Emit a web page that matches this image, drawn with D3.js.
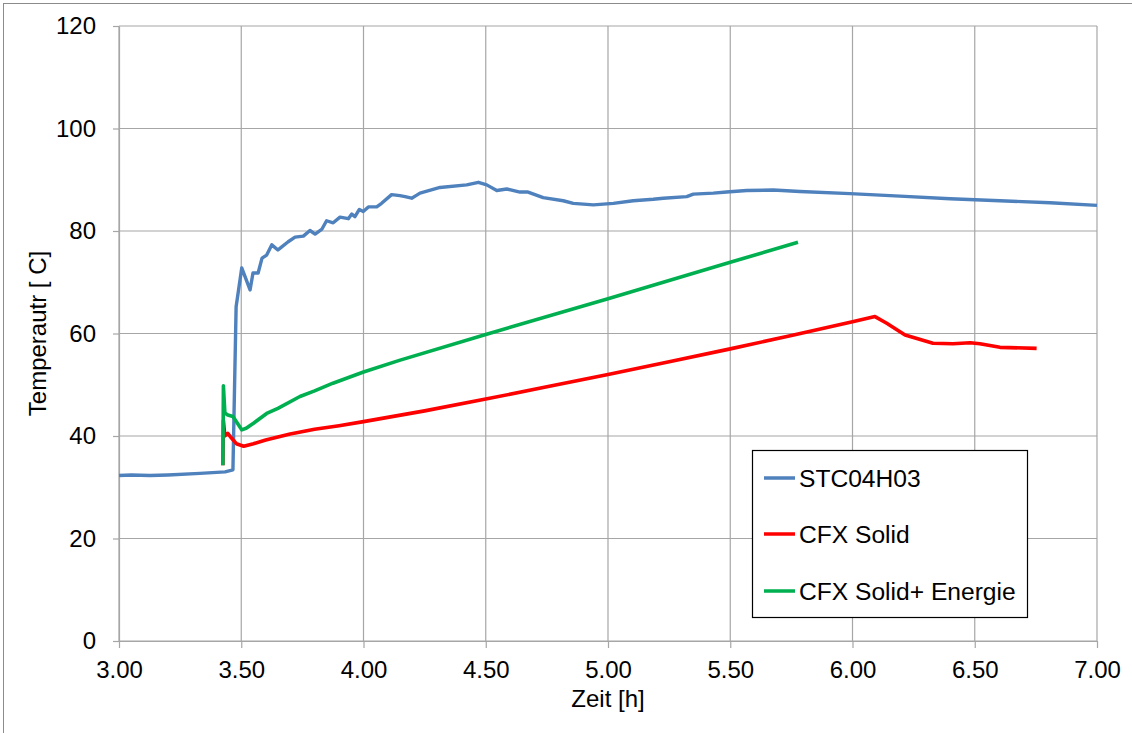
<!DOCTYPE html>
<html>
<head>
<meta charset="utf-8">
<script src="https://cdn.jsdelivr.net/npm/d3@7"></script>
<style>
html, body { margin: 0; padding: 0; background: #fff; }
svg { display: block; font-family: "Liberation Sans", Arial, sans-serif; }
</style>
</head>
<body>
<svg id="chart"></svg>
<script>
(function() {
'use strict';

// STC04H03 (measurement)
var stcTime = [3.000, 3.050, 3.127, 3.200, 3.331, 3.434, 3.466, 3.479, 3.502, 3.536, 3.548, 3.569,
    3.585, 3.604, 3.625, 3.650, 3.658, 3.692, 3.720, 3.754, 3.781, 3.802, 3.829, 3.849, 3.876,
    3.904, 3.938, 3.952, 3.965, 3.983, 3.999, 4.020, 4.054, 4.074, 4.115, 4.149, 4.170, 4.197,
    4.218, 4.231, 4.313, 4.422, 4.470, 4.504, 4.545, 4.586, 4.640, 4.673, 4.735, 4.817, 4.858,
    4.940, 5.022, 5.103, 5.185, 5.226, 5.322, 5.349, 5.431, 5.485, 5.567, 5.676, 5.785, 5.990,
    6.194, 6.399, 6.603, 6.808, 7.000];
var stcTemp = [32.3, 32.4, 32.3, 32.4, 32.7, 33.0, 33.4, 65.2, 72.8, 68.5, 71.8, 71.8,
    74.7, 75.3, 77.3, 76.3, 76.6, 77.9, 78.8, 79.0, 80.1, 79.4, 80.3, 82.0, 81.6,
    82.7, 82.4, 83.3, 82.8, 84.2, 83.8, 84.7, 84.7, 85.4, 87.1, 86.9, 86.7, 86.4,
    87.0, 87.4, 88.5, 89.0, 89.5, 89.0, 87.9, 88.2, 87.6, 87.6, 86.5, 85.9, 85.4,
    85.1, 85.4, 85.9, 86.2, 86.4, 86.7, 87.2, 87.4, 87.6, 87.9, 88.0, 87.7, 87.3,
    86.8, 86.3, 85.9, 85.5, 85.0];

// CFX Solid
var solidTime = [3.425, 3.427, 3.433, 3.445, 3.460, 3.480, 3.510, 3.550, 3.600, 3.700, 3.800,
    3.900, 4.000, 4.250, 4.500, 4.750, 5.000, 5.250, 5.500, 5.750, 6.000, 6.092, 6.140, 6.215,
    6.329, 6.411, 6.481, 6.521, 6.603, 6.753];
var solidTemp = [34.3, 43.0, 40.0, 40.5, 39.6, 38.5, 38.0, 38.5, 39.2, 40.4, 41.3,
    42.0, 42.8, 44.9, 47.2, 49.6, 52.0, 54.5, 57.0, 59.6, 62.3, 63.3, 62.0, 59.7,
    58.1, 58.0, 58.2, 58.0, 57.3, 57.1];

// CFX Solid+ Energie
var energieTime = [3.425, 3.427, 3.433, 3.445, 3.466, 3.502, 3.520, 3.550, 3.604, 3.650, 3.740,
    3.800, 3.875, 4.000, 4.150, 4.500, 5.000, 5.500, 5.777];
var energieTemp = [34.3, 49.8, 44.5, 44.1, 43.8, 41.2, 41.5, 42.5, 44.4, 45.4, 47.7,
    48.8, 50.3, 52.5, 54.8, 59.8, 66.8, 73.9, 77.8];

var seriesNames = ['STC04H03', 'CFX Solid', 'CFX Solid+ Energie'];
var seriesColors = ['#4f81bd', '#ff0000', '#00b050'];

var xTicks = [3.0, 3.5, 4.0, 4.5, 5.0, 5.5, 6.0, 6.5, 7.0];
var yTicks = [0, 20, 40, 60, 80, 100, 120];

var width = 1132, height = 733;
var margin = {left: 119, right: 35, top: 26, bottom: 92};

var svg = d3.select('#chart').attr('width', width).attr('height', height);

svg.append('rect')
    .attr('x', 3.5).attr('y', 3.5)
    .attr('width', width + 10).attr('height', height + 10)
    .attr('fill', '#fff')
    .attr('stroke', '#8c8c8c');

var x = d3.scaleLinear().domain([3, 7]).range([margin.left, width - margin.right]);
var y = d3.scaleLinear().domain([0, 120]).range([height - margin.bottom, margin.top]);

var gridColor = '#a6a6a6';

// grid
svg.append('g')
    .selectAll('line')
    .data(yTicks)
    .enter()
    .append('line')
    .attr('x1', x(3)).attr('x2', x(7))
    .attr('y1', function(d) { return y(d); })
    .attr('y2', function(d) { return y(d); })
    .attr('stroke', gridColor)
    .attr('stroke-width', 1.2);

svg.append('g')
    .selectAll('line')
    .data(xTicks)
    .enter()
    .append('line')
    .attr('y1', y(0)).attr('y2', y(120))
    .attr('x1', function(d) { return x(d); })
    .attr('x2', function(d) { return x(d); })
    .attr('stroke', gridColor)
    .attr('stroke-width', 1.2);

// axes
var yAxis = svg.append('g')
    .attr('transform', 'translate(' + x(3) + ',0)')
    .call(d3.axisLeft(y).tickValues(yTicks).tickSizeInner(6).tickSizeOuter(0).tickPadding(17));

var xAxis = svg.append('g')
    .attr('transform', 'translate(0,' + y(0) + ')')
    .call(d3.axisBottom(x).tickValues(xTicks).tickFormat(d3.format('.2f'))
        .tickSizeInner(7).tickSizeOuter(0));

[yAxis, xAxis].forEach(function(g) {
    g.select('.domain').attr('stroke', gridColor).attr('stroke-width', 1.2);
    g.selectAll('.tick line').attr('stroke', gridColor).attr('stroke-width', 1.2);
    g.selectAll('.tick text')
        .attr('fill', '#000')
        .attr('font-size', 24)
        .attr('font-family', '"Liberation Sans", Arial, sans-serif');
});
xAxis.selectAll('.tick text').attr('dy', 0).attr('y', 37);

// axis titles
svg.append('text')
    .attr('x', (x(3) + x(7)) / 2)
    .attr('y', 707)
    .attr('text-anchor', 'middle')
    .attr('font-size', 24)
    .text('Zeit [h]');

svg.append('text')
    .attr('transform', 'translate(46,' + ((y(0) + y(120)) / 2) + ') rotate(-90)')
    .attr('text-anchor', 'middle')
    .attr('font-size', 24)
    .text('Temperautr [ C]');

// series
var line = d3.line()
    .x(function(d) { return x(d[0]); })
    .y(function(d) { return y(d[1]); });

var series = [
    d3.zip(stcTime, stcTemp),
    d3.zip(solidTime, solidTemp),
    d3.zip(energieTime, energieTemp)
];
var widths = [3.4, 3.6, 3.6];

// measurement first, then red, green on top
series.forEach(function(pts, i) {
    svg.append('path')
        .datum(pts)
        .attr('d', line)
        .attr('fill', 'none')
        .attr('stroke', seriesColors[i])
        .attr('stroke-width', widths[i])
        .attr('stroke-linejoin', 'round');
});

// legend
var legend = svg.append('g');
legend.append('rect')
    .attr('x', 752.5).attr('y', 450.5)
    .attr('width', 275).attr('height', 167)
    .attr('fill', '#fff')
    .attr('stroke', '#000')
    .attr('stroke-width', 1.2);

var legendY = [478, 534, 591];
var item = legend.selectAll('g.item')
    .data(seriesNames)
    .enter()
    .append('g')
    .attr('class', 'item')
    .attr('transform', function(d, i) { return 'translate(0,' + legendY[i] + ')'; });

item.append('line')
    .attr('x1', 764).attr('x2', 795)
    .attr('stroke', function(d, i) { return seriesColors[i]; })
    .attr('stroke-width', 3.5);

item.append('text')
    .attr('x', 799)
    .attr('dy', '0.35em')
    .attr('font-size', 24.6)
    .text(function(d) { return d; });

})();
</script>
</body>
</html>
